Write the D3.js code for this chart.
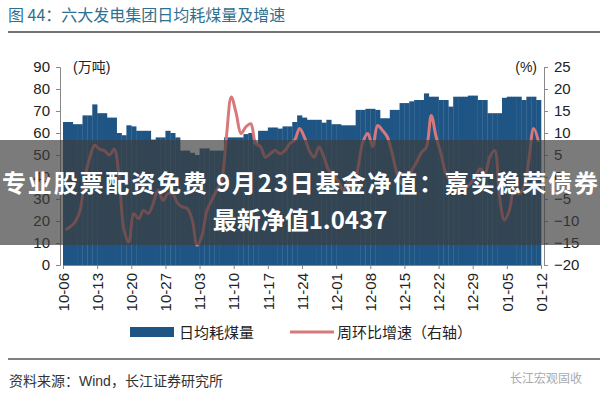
<!DOCTYPE html>
<html><head><meta charset="utf-8">
<script src="https://cdn.jsdelivr.net/npm/d3@7"></script>
<style>body{margin:0;background:#fff}svg{display:block;font-family:"Liberation Sans","Noto Sans CJK SC",sans-serif}</style>
</head><body><svg></svg>
<script>
var tickLabels = ['10-06','10-13','10-20','10-27','11-03','11-10','11-17','11-24','12-01','12-08','12-15','12-22','12-29','01-05','01-12']
// daily coal consumption (万吨)
var coal = [65,65,64,64,68,68,73,69,69,67,67,60,59,63.5,63,61,61,61,57,58,58,61,60,58,52,52,51,50,53,53,52,52,52,58,58,58,58,59.5,60,55,61,61,62.5,62.5,62,63,63,65,68,
  67,66,66,66,64.7,66,64,64,63.5,63.5,63.5,70.5,70.5,71,71,70.5,66.7,66.7,70.5,70.5,73.6,73.6,74.4,75,75,78,76.5,76.5,75,75,72,76.5,76.5,76.5,77,77,75,75,69,69,69,76,76.5,76.5,76.5,75,76.5,76.5,75]
// week-on-week growth (%)
var growth = [-12,-11.3,-10.2,-7.6,0,4.5,7.2,6.3,6,5,6.3,0,-12,-14.8,-8.3,-9.5,-7.6,-8.3,-6,-3,-5.3,-3.8,-3.8,-6,-6.8,-7.2,-9.8,-15.5,-13.3,-7.6,-5.3,-3,-0.8,9.1,18.2,14.5,9.9,11.4,12.1,7.6,6.9,4.5,5.3,6,5.3,6,7.6,8.4,11,
  9,6,4.5,6.8,4.5,1.5,0.4,-1.1,-3,-1.1,-3,2.2,8,9.9,6.9,11.7,10.6,9.1,5.3,0.8,-1.5,-1.1,1.5,3.4,5.6,6.8,14,9.1,5.3,0.8,-0.8,0,-1.1,-2.3,-1.5,0,1.9,0.8,4.5,6,-4.5,-9.8,-7.6,-3,-3.8,-2.3,3.8,11,8]

var svg = d3.select('svg').attr('width', 600).attr('height', 400)
var pLeft = 63, pRight = 541, pTop = 67, pBottom = 265

svg.append('text').attr('x', 8).attr('y', 21).attr('fill', '#2f6f8f').attr('font-size', 16)
  .attr('font-family', '"Noto Sans CJK SC"').text('图 44：六大发电集团日均耗煤量及增速')
svg.append('line').attr('x1', 8).attr('x2', 600).attr('y1', 32).attr('y2', 32).attr('stroke', '#444').attr('stroke-width', 1.5)

var x = d3.scaleLinear().domain([0, coal.length]).range([pLeft, pRight])
var y = d3.scaleLinear().domain([0, 90]).range([pBottom, pTop])
var y2 = d3.scaleLinear().domain([-20, 25]).range([pBottom, pTop])

svg.append('g').selectAll('rect').data(coal).join('rect')
  .attr('x', function(d, i) { return x(i) }).attr('width', x(1) - x(0) + 0.3)
  .attr('y', function(d) { return y(d) }).attr('height', function(d) { return pBottom - y(d) })
  .attr('fill', '#1f5584')

var line = d3.line().curve(d3.curveCatmullRom)
  .x(function(d, i) { return x(i + 0.5) }).y(function(d) { return y2(d) })
svg.append('path').datum(growth).attr('d', line).attr('fill', 'none')
  .attr('stroke', '#d9787a').attr('stroke-width', 3)

var ya = svg.append('g').attr('transform', 'translate(' + (pLeft - 3) + ',0)')
  .call(d3.axisLeft(y).tickValues(d3.range(0, 91, 10)).tickSize(4).tickPadding(6))
var yb = svg.append('g').attr('transform', 'translate(' + (pRight + 3) + ',0)')
  .call(d3.axisRight(y2).tickValues(d3.range(-20, 26, 5)).tickSize(4).tickPadding(6))
var xa = svg.append('g').attr('transform', 'translate(0,' + pBottom + ')')
  .call(d3.axisBottom(x).tickValues(d3.range(0, tickLabels.length).map(function(i) { return i * 7 }))
    .tickFormat(function(d) { return tickLabels[d / 7] }).tickSize(4))
xa.selectAll('text').attr('transform', 'rotate(-90)').attr('text-anchor', 'end')
  .attr('x', -8).attr('y', 0).attr('dy', '0.35em')
;[ya, yb, xa].forEach(function(a) {
  a.select('.domain').attr('stroke', '#888')
  a.selectAll('.tick line').attr('stroke', '#888')
  a.selectAll('text').attr('font-size', 15).attr('fill', '#222')
})
svg.append('text').attr('x', 73).attr('y', 72).attr('font-size', 14).attr('fill', '#222').text('(万吨)')
svg.append('text').attr('x', 537).attr('y', 72).attr('text-anchor', 'end').attr('font-size', 14).attr('fill', '#222').text('(%)')

// legend
svg.append('rect').attr('x', 130).attr('y', 327).attr('width', 44).attr('height', 10).attr('fill', '#1f5584')
svg.append('text').attr('x', 179).attr('y', 338).attr('font-size', 15).attr('fill', '#222').text('日均耗煤量')
svg.append('line').attr('x1', 290).attr('x2', 334).attr('y1', 332).attr('y2', 332).attr('stroke', '#d9787a').attr('stroke-width', 3)
svg.append('text').attr('x', 337).attr('y', 338).attr('font-size', 15).attr('fill', '#222').text('周环比增速（右轴）')

svg.append('line').attr('x1', 8).attr('x2', 600).attr('y1', 359).attr('y2', 359).attr('stroke', '#555').attr('stroke-width', 1.5)
svg.append('text').attr('x', 9).attr('y', 386).attr('font-size', 14).attr('fill', '#333').text('资料来源：Wind，长江证券研究所')
svg.append('text').attr('x', 582).attr('y', 383).attr('text-anchor', 'end').attr('font-size', 12).attr('fill', '#aaa').text('长江宏观固收')

// overlay banner
svg.append('rect').attr('x', 0).attr('y', 140).attr('width', 600).attr('height', 105).attr('fill', '#3c3c3c').attr('opacity', 0.68)
svg.append('text').attr('x', 300).attr('y', 192).attr('text-anchor', 'middle').attr('fill', '#fff').attr('font-weight', 'bold')
  .attr('font-size', 24).attr('textLength', 596).attr('font-family', '"Noto Sans CJK SC"').text('专业股票配资免费 9月23日基金净值：嘉实稳荣债券')
svg.append('text').attr('x', 300).attr('y', 229).attr('text-anchor', 'middle').attr('fill', '#fff').attr('font-weight', 'bold')
  .attr('font-size', 24).attr('font-family', '"Noto Sans CJK SC"').text('最新净值1.0437')
</script></body></html>
